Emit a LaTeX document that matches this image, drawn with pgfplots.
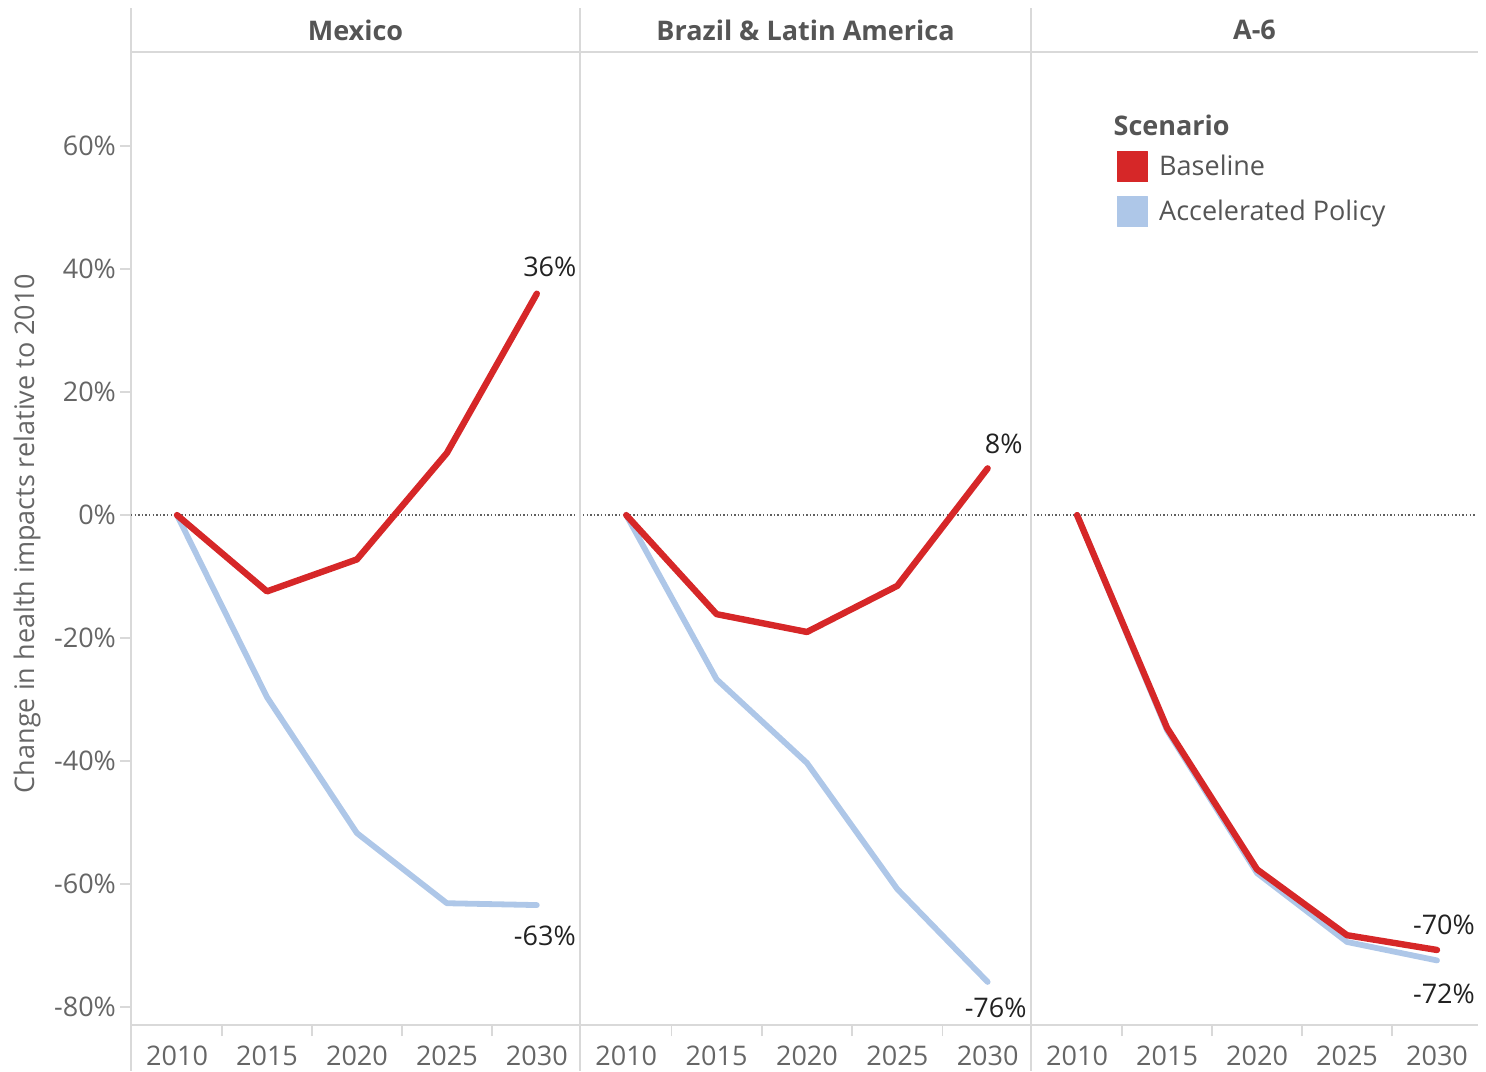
\documentclass[border=0pt]{standalone}
\usepackage{fontspec}
\setmainfont{Open Sans}
\usepackage{pgfplots}
\pgfplotsset{compat=1.18}
\definecolor{basered}{RGB}{214,39,40}
\definecolor{accblue}{RGB}{174,199,232}
\definecolor{linegray}{RGB}{217,217,217}
\definecolor{tickgray}{RGB}{102,102,102}
\definecolor{headgray}{RGB}{85,85,85}
\definecolor{labblack}{RGB}{34,34,34}
\newcommand{\ticfont}{\fontsize{13.5}{16}\selectfont}
\tikzset{
 redl/.style={basered, line width=3.2pt},
 bluel/.style={accblue, line width=2.9pt},
 zerol/.style={dash pattern=on 0.7pt off 1.1pt, gray!75!black, line width=0.7pt},
 frame/.style={draw=linegray, line width=0.8pt},
}
\pgfplotsset{
 panel/.style={scale only axis, height=486.5pt, ymin=-82.9, ymax=75.3, xmin=2007.44, xmax=2032.4,
  axis line style={draw=none},
  xtick pos=bottom, ytick pos=left,
  xtick={2010,2015,2020,2025,2030}, xticklabels={2010,2015,2020,2025,2030},
  major tick length=5.5pt, tick align=outside,
  xtick style={draw=none},
  xticklabel style={font=\ticfont, text=tickgray, yshift=-1.5pt},
  extra x ticks={2012.5,2017.5,2022.5,2027.5}, extra x tick labels={},
  extra x tick style={xtick style={draw=linegray, line width=0.8pt}},
  ytick=\empty, clip=false,
  every axis plot/.append style={line join=round, line cap=round},
  legend image code/.code={\fill[##1] (0pt,-7.5pt) rectangle (15pt,7.5pt);},
 },
}
\begin{document}
\begin{tikzpicture}
\path[use as bounding box] (-65.5pt,-23pt) rectangle (677.5pt,512.5pt);
% Panel 1: Mexico
\begin{axis}[panel, width=224.5pt, at={(0pt,0pt)}, anchor=south west,
  ytick={-80,-60,-40,-20,0,20,40,60},
  yticklabels={-80\%,-60\%,-40\%,-20\%,0\%,20\%,40\%,60\%},
  ytick style={draw=linegray, line width=0.8pt},
  yticklabel style={font=\ticfont, text=tickgray, xshift=1.5pt}]
\draw[frame] (rel axis cs:0,1.0452) -- (rel axis cs:0,-0.0473);
\draw[frame] (rel axis cs:0,1) -- (rel axis cs:1,1);
\draw[frame] (rel axis cs:0,0) -- (rel axis cs:1,0);
\draw[zerol] (axis cs:2007.44,0) -- (axis cs:2032.2,0);
\node[font=\ticfont\bfseries, text=headgray] at (rel axis cs:0.5,1) [yshift=11pt] {Mexico};
\node[xshift=-52pt, yshift=2.5pt, rotate=90, font=\ticfont, text=tickgray] at (rel axis cs:0,0.5) {Change in health impacts relative to 2010};
\addplot[bluel] coordinates {(2010,0) (2015,-29.6) (2020,-51.7) (2025,-63.1) (2030,-63.4)};
\addplot[redl] coordinates {(2010,0) (2015,-12.4) (2020,-7.2) (2025,10.1) (2030,36)};
\node[font=\ticfont, text=labblack] at (axis cs:2030,36) [xshift=6.5pt, yshift=13.5pt] {36\%};
\node[font=\ticfont, text=labblack] at (axis cs:2030,-63.4) [xshift=4pt, yshift=-15.5pt] {-63\%};
\end{axis}
% Panel 2: Brazil & Latin America
\begin{axis}[panel, width=225.5pt, at={(224.5pt,0pt)}, anchor=south west]
\draw[frame] (rel axis cs:0,1.0452) -- (rel axis cs:0,-0.0473);
\draw[frame] (rel axis cs:0,1) -- (rel axis cs:1,1);
\draw[frame] (rel axis cs:0,0) -- (rel axis cs:1,0);
\draw[zerol] (axis cs:2007.6,0) -- (axis cs:2032.2,0);
\node[font=\ticfont\bfseries, text=headgray] at (rel axis cs:0.5,1) [yshift=11pt] {Brazil \& Latin America};
\addplot[bluel] coordinates {(2010,0) (2015,-26.7) (2020,-40.3) (2025,-60.8) (2030,-75.9)};
\addplot[redl] coordinates {(2010,0) (2015,-16.1) (2020,-19.0) (2025,-11.5) (2030,7.6)};
\node[font=\ticfont, text=labblack] at (axis cs:2030,7.6) [xshift=8pt, yshift=12.5pt] {8\%};
\node[font=\ticfont, text=labblack] at (axis cs:2030,-75.9) [xshift=4pt, yshift=-13pt] {-76\%};
\end{axis}
% Panel 3: A-6
\begin{axis}[panel, width=223.5pt, xmax=2032.28, at={(450pt,0pt)}, anchor=south west,
  legend style={at={(rel axis cs:0.1924,0.8983)}, anchor=north west, draw=none, fill=none,
    inner sep=0pt, font=\ticfont, text=headgray, row sep=7pt,
    nodes={inner sep=0pt, outer sep=0pt}},
  legend cell align=left]
\draw[frame] (rel axis cs:0,1.0452) -- (rel axis cs:0,-0.0473);
\draw[frame] (rel axis cs:0,1) -- (rel axis cs:1,1);
\draw[frame] (rel axis cs:0,0) -- (rel axis cs:1,0);
\draw[zerol] (axis cs:2007.6,0) -- (axis cs:2032.2,0);
\node[font=\ticfont\bfseries, text=headgray] at (rel axis cs:0.5,1) [yshift=11pt] {A-6};
\node[font=\ticfont\bfseries, text=headgray, anchor=west] at (rel axis cs:0.1690,0.9244) {Scenario};
\addplot[bluel, forget plot] coordinates {(2010,0) (2015,-35) (2020,-58.2) (2025,-69.4) (2030,-72.4)};
\addplot[redl, forget plot] coordinates {(2010,0) (2015,-34.6) (2020,-57.6) (2025,-68.3) (2030,-70.7)};
\addlegendimage{basered}\addlegendentry{\hspace{5.5pt}Baseline}
\addlegendimage{accblue}\addlegendentry{\hspace{5.5pt}Accelerated Policy}
\node[font=\ticfont, text=labblack] at (axis cs:2030,-70.7) [xshift=3.5pt, yshift=12.5pt] {-70\%};
\node[font=\ticfont, text=labblack] at (axis cs:2030,-72.4) [xshift=3.5pt, yshift=-16.5pt] {-72\%};
\end{axis}
\end{tikzpicture}
\end{document}
